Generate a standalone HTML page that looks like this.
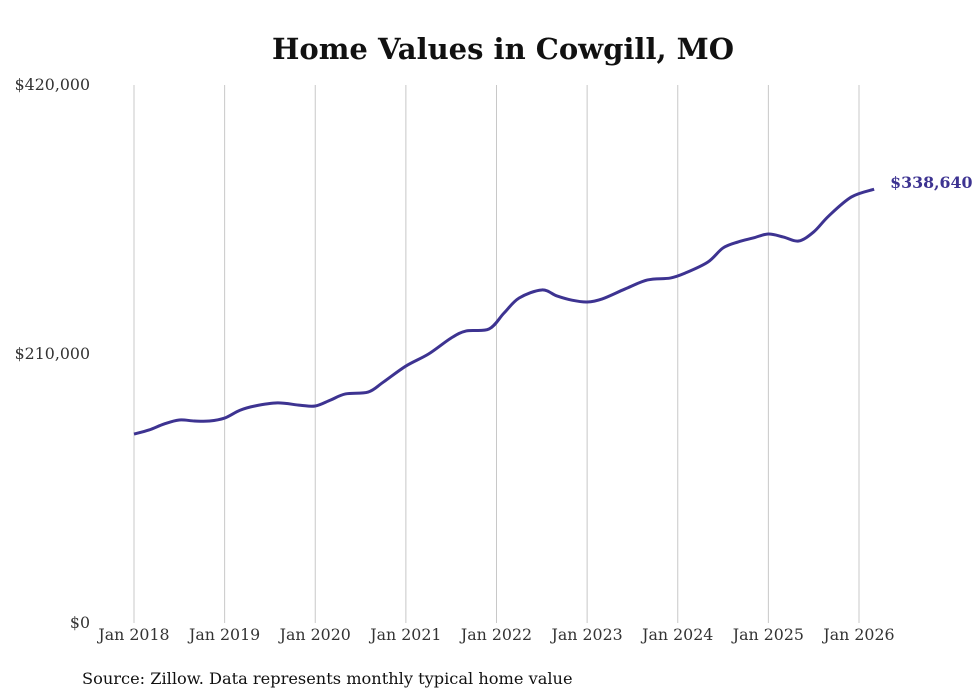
<!DOCTYPE html>
<html><head><meta charset="utf-8"><style>
body{margin:0;background:#fff;}
svg{display:block;font-family:"DejaVu Serif","Liberation Serif",serif;}
</style></head><body>
<svg id="chart" width="980" height="699">
<text x="503" y="59" text-anchor="middle" font-size="29" font-weight="bold" fill="#111">Home Values in Cowgill, MO</text>
<g id="grid"></g><g id="yaxis"></g><g id="xaxis"></g>
<path id="line" fill="none" stroke="#3d3391" stroke-width="3" stroke-linejoin="round"/>
<text id="endlabel" font-size="15.8" font-weight="bold" fill="#3d3391"></text>
<text x="82" y="684" font-size="16.2" fill="#111">Source: Zillow. Data represents monthly typical home value</text>
</svg>
<script>
const months=[0,2,4,6,8,10,12,14,16,19,22,24,26,28,31,33,36,39,42,44,47,49,51,54,56,58,60,62,65,68,71,73,76,78,80,82,84,86,88,90,92,95,98];
const values=[147500,150700,155400,158500,157700,157700,160000,166000,169400,171800,170000,169400,174000,178800,180300,188000,200600,210000,222500,228000,229500,242000,253700,260000,255300,252000,250600,253000,260700,267800,269300,273200,281800,292800,297500,300600,303700,301300,298200,305300,317800,332600,338640];
const yTicks=[0,210000,420000];
const yTickLabels=["$0","$210,000","$420,000"];
const xTickYears=[2018,2019,2020,2021,2022,2023,2024,2025,2026];
const ns="http://www.w3.org/2000/svg";
const X=m=>134+m*(725/96);
const Y=v=>623-v/420000*538;
const grid=document.getElementById('grid'),xa=document.getElementById('xaxis'),ya=document.getElementById('yaxis');
xTickYears.forEach((yr,i)=>{
 const x=X((yr-2018)*12);
 const l=document.createElementNS(ns,'line');
 l.setAttribute('x1',x);l.setAttribute('x2',x);l.setAttribute('y1',85);l.setAttribute('y2',623);
 l.setAttribute('stroke','#c8c8c8');l.setAttribute('stroke-width','1');
 
 
 grid.appendChild(l);
 const t=document.createElementNS(ns,'text');
 t.setAttribute('x',x);t.setAttribute('y',640);t.setAttribute('text-anchor','middle');t.setAttribute('font-size','15.8');t.setAttribute('fill','#333');
 t.textContent='Jan '+yr;
 
 
 xa.appendChild(t);
});
yTicks.forEach((v,i)=>{
 const t=document.createElementNS(ns,'text');
 t.setAttribute('x',90);t.setAttribute('y',Y(v)+5);t.setAttribute('text-anchor','end');t.setAttribute('font-size','15.8');t.setAttribute('fill','#333');
 t.textContent=yTickLabels[i];
 
 
 ya.appendChild(t);
});
const pts=months.map((m,i)=>[X(m),Y(values[i])]);
let d='M'+pts[0][0]+','+pts[0][1];
for(let i=0;i<pts.length-1;i++){
 const p0=pts[Math.max(0,i-1)],p1=pts[i],p2=pts[i+1],p3=pts[Math.min(pts.length-1,i+2)];
 const c1=[p1[0]+(p2[0]-p0[0])/6,p1[1]+(p2[1]-p0[1])/6],c2=[p2[0]-(p3[0]-p1[0])/6,p2[1]-(p3[1]-p1[1])/6];
 d+=' C'+c1+' '+c2+' '+p2;
}
document.getElementById('line').setAttribute('d',d);
const last=pts[pts.length-1],el=document.getElementById('endlabel');
el.setAttribute('x',last[0]+16);el.setAttribute('y',last[1]-1);
el.textContent='$'+values[values.length-1].toLocaleString('en-US');
</script>
</body></html>
